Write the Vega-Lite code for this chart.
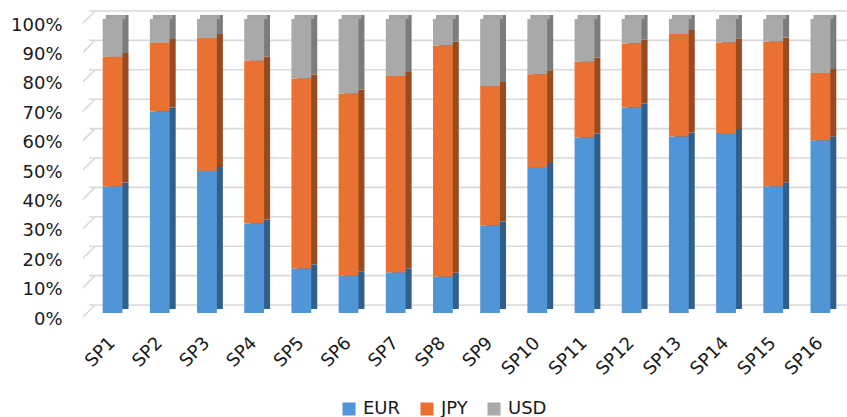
{
  "$schema": "https://vega.github.io/schema/vega-lite/v6.json",
  "width": 755,
  "height": 294,
  "autosize": {"type": "none"},
  "padding": {"left": 89, "top": 19, "right": 3, "bottom": 104},
  "background": "white",
  "config": {
    "view": {"stroke": null},
    "font": "DejaVu Sans",
    "axis": {"labelFont": "DejaVu Sans", "labelColor": "#1a1a1a", "labelFontSize": 18},
    "axisY": {"labelOverlap": false, "labelFlush": false, "tickCount": 11},
    "legend": {"labelFont": "DejaVu Sans", "labelColor": "#1a1a1a", "labelFontSize": 18}
  },
  "datasets": {
    "shares": [
      {"sp": "SP1", "cur": "EUR", "pct": 43.0}, {"sp": "SP1", "cur": "JPY", "pct": 44.1}, {"sp": "SP1", "cur": "USD", "pct": 12.9},
      {"sp": "SP2", "cur": "EUR", "pct": 68.5}, {"sp": "SP2", "cur": "JPY", "pct": 23.3}, {"sp": "SP2", "cur": "USD", "pct": 8.2},
      {"sp": "SP3", "cur": "EUR", "pct": 48.3}, {"sp": "SP3", "cur": "JPY", "pct": 45.2}, {"sp": "SP3", "cur": "USD", "pct": 6.5},
      {"sp": "SP4", "cur": "EUR", "pct": 30.4}, {"sp": "SP4", "cur": "JPY", "pct": 55.4}, {"sp": "SP4", "cur": "USD", "pct": 14.2},
      {"sp": "SP5", "cur": "EUR", "pct": 15.1}, {"sp": "SP5", "cur": "JPY", "pct": 64.7}, {"sp": "SP5", "cur": "USD", "pct": 20.2},
      {"sp": "SP6", "cur": "EUR", "pct": 12.7}, {"sp": "SP6", "cur": "JPY", "pct": 62.0}, {"sp": "SP6", "cur": "USD", "pct": 25.3},
      {"sp": "SP7", "cur": "EUR", "pct": 13.8}, {"sp": "SP7", "cur": "JPY", "pct": 66.8}, {"sp": "SP7", "cur": "USD", "pct": 19.4},
      {"sp": "SP8", "cur": "EUR", "pct": 12.3}, {"sp": "SP8", "cur": "JPY", "pct": 78.7}, {"sp": "SP8", "cur": "USD", "pct": 9.0},
      {"sp": "SP9", "cur": "EUR", "pct": 29.8}, {"sp": "SP9", "cur": "JPY", "pct": 47.4}, {"sp": "SP9", "cur": "USD", "pct": 22.8},
      {"sp": "SP10", "cur": "EUR", "pct": 49.7}, {"sp": "SP10", "cur": "JPY", "pct": 31.5}, {"sp": "SP10", "cur": "USD", "pct": 18.8},
      {"sp": "SP11", "cur": "EUR", "pct": 59.7}, {"sp": "SP11", "cur": "JPY", "pct": 25.8}, {"sp": "SP11", "cur": "USD", "pct": 14.5},
      {"sp": "SP12", "cur": "EUR", "pct": 69.9}, {"sp": "SP12", "cur": "JPY", "pct": 21.8}, {"sp": "SP12", "cur": "USD", "pct": 8.3},
      {"sp": "SP13", "cur": "EUR", "pct": 60.0}, {"sp": "SP13", "cur": "JPY", "pct": 34.9}, {"sp": "SP13", "cur": "USD", "pct": 5.1},
      {"sp": "SP14", "cur": "EUR", "pct": 61.2}, {"sp": "SP14", "cur": "JPY", "pct": 30.8}, {"sp": "SP14", "cur": "USD", "pct": 8.0},
      {"sp": "SP15", "cur": "EUR", "pct": 43.1}, {"sp": "SP15", "cur": "JPY", "pct": 49.2}, {"sp": "SP15", "cur": "USD", "pct": 7.7},
      {"sp": "SP16", "cur": "EUR", "pct": 58.8}, {"sp": "SP16", "cur": "JPY", "pct": 22.8}, {"sp": "SP16", "cur": "USD", "pct": 18.4}
    ],
    "ticks": [
      {"v": 0}, {"v": 0.1}, {"v": 0.2}, {"v": 0.3}, {"v": 0.4}, {"v": 0.5},
      {"v": 0.6}, {"v": 0.7}, {"v": 0.8}, {"v": 0.9}, {"v": 1}
    ]
  },
  "layer": [
    {
      "description": "back-wall gridlines, raised to suggest depth",
      "data": {"name": "ticks"},
      "mark": {"type": "rule", "color": "#d9d9d9", "strokeWidth": 1.6, "yOffset": -8, "xOffset": 6, "x2Offset": 3},
      "encoding": {
        "y": {"field": "v", "type": "quantitative", "title": null, "scale": {"domain": [0, 1]}}
      }
    },
    {
      "description": "floor-to-wall diagonals at the left edge",
      "data": {"name": "ticks"},
      "mark": {"type": "rule", "color": "#d9d9d9", "strokeWidth": 1.6, "yOffset": 4, "y2Offset": -8},
      "encoding": {
        "x": {"value": -6},
        "x2": {"value": 6},
        "y": {"field": "v", "type": "quantitative", "title": null},
        "y2": {"field": "v"}
      }
    },
    {
      "description": "side faces of the columns",
      "data": {"name": "shares"},
      "mark": {"type": "bar", "xOffset": 6, "yOffset": -4},
      "encoding": {
        "x": {"field": "sp", "type": "nominal", "title": null,
              "sort": ["SP1","SP2","SP3","SP4","SP5","SP6","SP7","SP8","SP9","SP10","SP11","SP12","SP13","SP14","SP15","SP16"],
              "scale": {"paddingInner": 0.58, "paddingOuter": 0.29}},
        "y": {"field": "pct", "type": "quantitative", "stack": "normalize", "title": null},
        "order": {"field": "cur", "sort": "ascending"},
        "color": {"field": "cur", "type": "nominal",
                  "scale": {"domain": ["EUR", "JPY", "USD"], "range": ["#2f5f8d", "#9a4a1f", "#7c7c7c"]},
                  "legend": null}
      }
    },
    {
      "description": "top face of each column",
      "data": {"name": "shares"},
      "transform": [{"filter": "datum.cur === 'USD'"}],
      "mark": {"type": "bar", "color": "#a4a4a4", "xOffset": 3, "x2Offset": 3, "yOffset": -4},
      "encoding": {
        "x": {"field": "sp", "type": "nominal", "title": null,
              "sort": ["SP1","SP2","SP3","SP4","SP5","SP6","SP7","SP8","SP9","SP10","SP11","SP12","SP13","SP14","SP15","SP16"]},
        "y": {"datum": 1, "type": "quantitative", "title": null},
        "y2": {"datum": 1}
      }
    },
    {
      "description": "front faces: share of each currency",
      "data": {"name": "shares"},
      "mark": {"type": "bar"},
      "encoding": {
        "x": {"field": "sp", "type": "nominal",
              "sort": ["SP1","SP2","SP3","SP4","SP5","SP6","SP7","SP8","SP9","SP10","SP11","SP12","SP13","SP14","SP15","SP16"],
              "axis": {"title": null, "labelAngle": -45, "domain": false, "ticks": false, "labelPadding": 27}},
        "y": {"field": "pct", "type": "quantitative", "stack": "normalize",
              "axis": {"title": null, "format": ".0%", "tickCount": 11,
                       "grid": false, "domain": false, "ticks": false, "labelPadding": 27, "labelOffset": 6}},
        "order": {"field": "cur", "sort": "ascending"},
        "color": {"field": "cur", "type": "nominal",
                  "scale": {"domain": ["EUR", "JPY", "USD"], "range": ["#5096d7", "#e97232", "#a9a9a9"]},
                  "legend": {"title": null, "orient": "none", "direction": "horizontal",
                             "legendX": 251, "legendY": 381, "symbolType": "square", "symbolSize": 170,
                             "symbolStrokeWidth": 0, "labelOffset": 5, "columnPadding": 17}}
      }
    }
  ],
  "resolve": {"scale": {"color": "independent"}}
}
